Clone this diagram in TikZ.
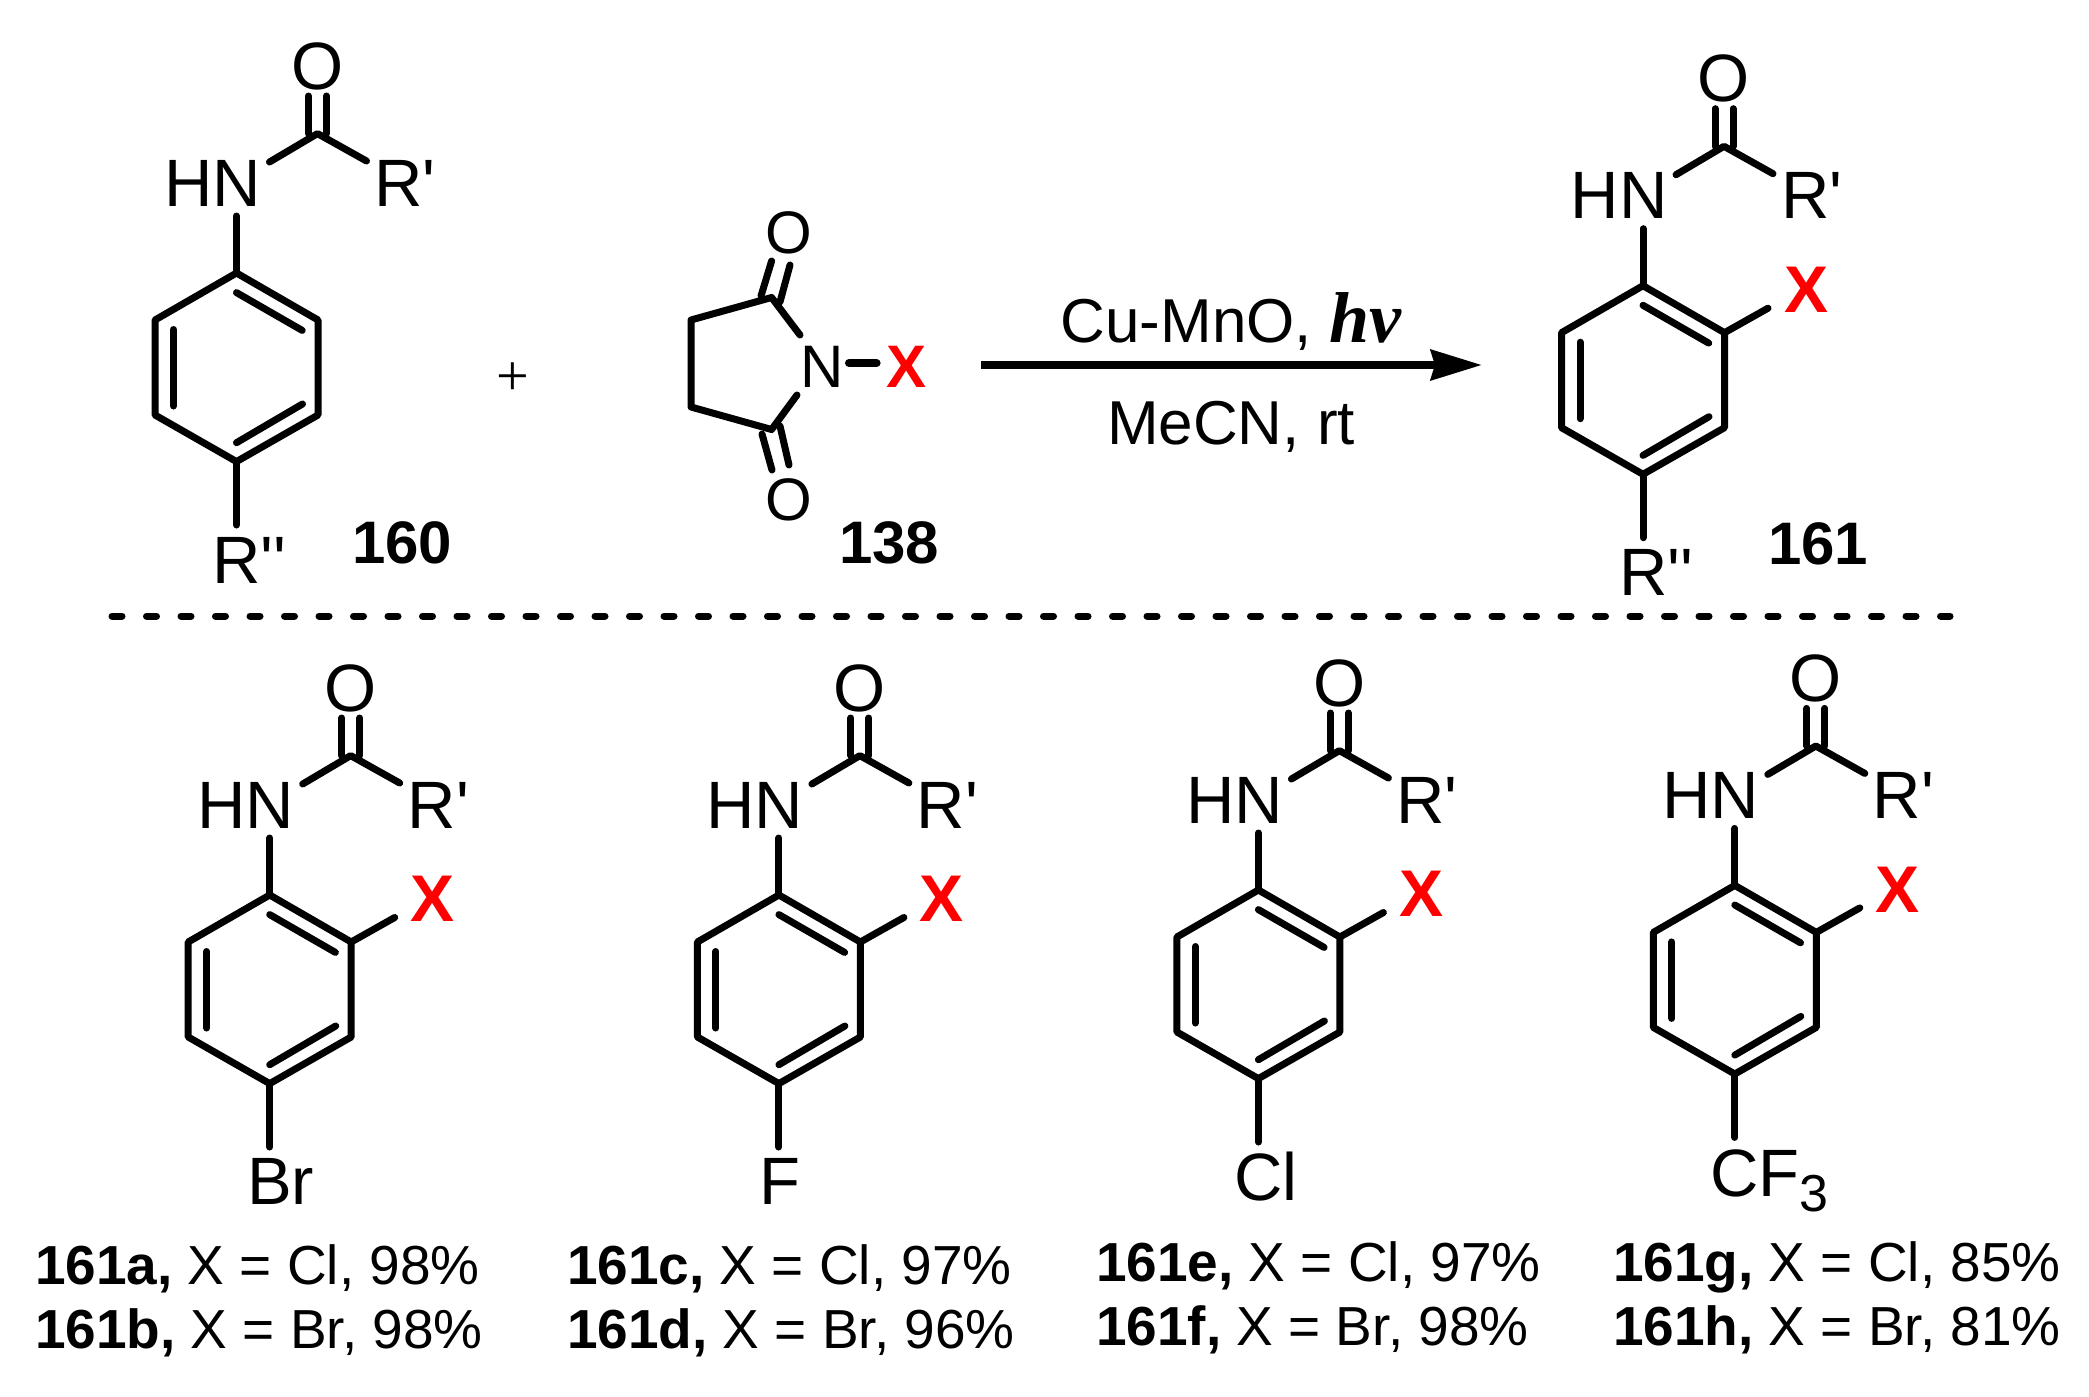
\documentclass[tikz,border=0pt]{standalone}
\usepackage{fontspec}
\usetikzlibrary{arrows.meta}
\newfontfamily\arl{Liberation Sans}
\newfontfamily\tms{Liberation Serif}
\tikzset{
  bond/.style={line width=7pt,line cap=round,line join=round,black},
  lab/.style={inner sep=0pt,outer sep=0pt,font=\arl\fontsize{67}{70}\selectfont},
  smlab/.style={inner sep=0pt,outer sep=0pt,font=\arl\fontsize{60}{64}\selectfont},
  cpd/.style={inner sep=0pt,outer sep=0pt,font=\arl\bfseries\fontsize{60}{64}\selectfont},
  captext/.style={inner sep=0pt,outer sep=0pt,anchor=base west,font=\arl\fontsize{55}{60}\selectfont},
  redx/.style={inner sep=0pt,outer sep=0pt,text=red,font=\arl\bfseries\fontsize{66}{70}\selectfont},
}
\newcommand{\amide}[3]{%
 \begin{scope}[shift={(#2,#3)}]
  \coordinate (#1-t) at (0,0);
  \coordinate (#1-ur) at (81.5,47);
  \coordinate (#1-lr) at (81.5,142);
  \coordinate (#1-b) at (0,188.6);
  \coordinate (#1-ll) at (-81.5,142);
  \coordinate (#1-ul) at (-81.5,47);
  \coordinate (#1-i1a) at (0,19.6);
  \coordinate (#1-i1b) at (65.7,57.4);
  \coordinate (#1-i2a) at (-63,56.5);
  \coordinate (#1-i2b) at (-63,133);
  \coordinate (#1-i3a) at (0,169.7);
  \coordinate (#1-i3b) at (66,131);
  \coordinate (#1-ne) at (0,-57);
  \coordinate (#1-pe) at (0,252);
  \coordinate (#1-c) at (81,-139.4);
  \coordinate (#1-nc) at (33,-111);
  \coordinate (#1-rc) at (130,-112);
  \coordinate (#1-d1a) at (72,-139.4);
  \coordinate (#1-d1b) at (72,-177);
  \coordinate (#1-d2a) at (90,-139.4);
  \coordinate (#1-d2b) at (90,-177);
  \node[lab] (#1-O) at (81,-207) {O};
  \node[lab,anchor=base] (#1-HN) at (-24,-67) {HN};
  \node[lab,anchor=base west] (#1-R) at (138,-67) {R'};
 \end{scope}
 \draw[bond] (#1-t)--(#1-ur)--(#1-lr)--(#1-b)--(#1-ll)--(#1-ul)--cycle;
 \draw[bond] (#1-i1a)--(#1-i1b);
 \draw[bond] (#1-i2a)--(#1-i2b);
 \draw[bond] (#1-i3a)--(#1-i3b);
 \draw[bond] (#1-ne)--(#1-t);
 \draw[bond] (#1-b)--(#1-pe);
 \draw[bond] (#1-nc)--(#1-c)--(#1-rc);
 \draw[bond] (#1-d1a)--(#1-d1b);
 \draw[bond] (#1-d2a)--(#1-d2b);
}
\newcommand{\addx}[3]{%
 \begin{scope}[shift={(#2,#3)}]
  \coordinate (#1-xe) at (125,22.5);
  \node[redx,anchor=base] (#1-X) at (163,26.7) {X};
 \end{scope}
 \draw[bond] (#1-ur)--(#1-xe);
}
\begin{document}
\begin{tikzpicture}[x=1pt,y=-1pt]
\useasboundingbox (0,0) rectangle (2089,1397);
\fill[white] (0,0) rectangle (2089,1397);

% top row
\amide{ma}{236.5}{273}
\node[lab,anchor=base west] (ma-Rpp) at (212,583) {R''};
\node[cpd,anchor=base west] (c160) at (352,563) {160};
\node[inner sep=0pt,font=\tms\fontsize{58}{60}\selectfont] (plus) at (512.7,379) {+};

% succinimide
\coordinate (s-c1) at (771.6,297.5);
\coordinate (s-l1) at (691,320);
\coordinate (s-l2) at (691,407);
\coordinate (s-c2) at (771.6,429.5);
\coordinate (s-n1) at (800,335);
\coordinate (s-n2) at (797,395);
\coordinate (s-a1) at (761,296);
\coordinate (s-a2) at (771.6,261);
\coordinate (s-b1) at (780,302);
\coordinate (s-b2) at (790,265);
\coordinate (s-e1) at (762,434);
\coordinate (s-e2) at (772,470);
\coordinate (s-f1) at (780,426);
\coordinate (s-f2) at (789,465);
\coordinate (s-x1) at (849,363);
\coordinate (s-x2) at (876.6,363);
\node[smlab,anchor=base] (s-N) at (822,387) {N};
\node[smlab] (s-O1) at (788.8,233) {O};
\node[smlab] (s-O2) at (788.8,500) {O};
\node[redx,anchor=base,font=\arl\bfseries\fontsize{60}{64}\selectfont] (s-X) at (906,387) {X};
\draw[bond] (s-n1)--(s-c1)--(s-l1)--(s-l2)--(s-c2)--(s-n2);
\draw[bond] (s-a1)--(s-a2);
\draw[bond] (s-b1)--(s-b2);
\draw[bond] (s-e1)--(s-e2);
\draw[bond] (s-f1)--(s-f2);
\draw[bond,line width=8pt] (s-x1)--(s-x2);
\node[cpd,anchor=base west] (c138) at (839,563) {138};

% arrow
\coordinate (ar-s) at (981,365);
\coordinate (ar-e) at (1482,365);
\draw[line width=8pt,-{Stealth[length=51pt,width=30pt,inset=4pt]}] (ar-s)--(ar-e);
\node[smlab,anchor=base,font=\arl\fontsize{62}{66}\selectfont] (ar-top) at (1231,342) {Cu-MnO, {\tms\bfseries\itshape\fontsize{72}{72}\selectfont hv}};
\node[smlab,anchor=base,font=\arl\fontsize{62}{66}\selectfont] (ar-bot) at (1231,444) {MeCN, rt};

\amide{mb}{1643}{285.7}
\addx{mb}{1643}{285.7}
\node[lab,anchor=base west] (mb-Rpp) at (1619,595) {R''};
\node[cpd,anchor=base west] (c161) at (1768,564) {161};

% dashed separator
\coordinate (sep-l) at (112,616);
\coordinate (sep-r) at (1950,616);
\draw[line width=7pt,line cap=round,dash pattern=on 10pt off 24.5pt] (sep-l)--(sep-r);

% bottom row
\amide{m1}{269.7}{895}
\addx{m1}{269.7}{895}
\node[lab,anchor=base west] (m1-S) at (247,1204) {Br};
\amide{m2}{778.9}{895}
\addx{m2}{778.9}{895}
\node[lab,anchor=base west] (m2-S) at (759,1204) {F};
\amide{m3}{1258.4}{890}
\addx{m3}{1258.4}{890}
\node[lab,anchor=base west] (m3-S) at (1234,1200) {Cl};
\amide{m4}{1734.8}{885.4}
\addx{m4}{1734.8}{885.4}
\node[lab,anchor=base west] (m4-S) at (1710,1196) {CF\raisebox{-15pt}{\fontsize{52}{54}\selectfont 3}};

\node[captext] (t1) at (35,1284) {{\bfseries 161a,} X = Cl, 98\%};
\node[captext] (t2) at (35,1348) {{\bfseries 161b,} X = Br, 98\%};
\node[captext] (t3) at (567,1284) {{\bfseries 161c,} X = Cl, 97\%};
\node[captext] (t4) at (567,1348) {{\bfseries 161d,} X = Br, 96\%};
\node[captext] (t5) at (1096,1281) {{\bfseries 161e,} X = Cl, 97\%};
\node[captext] (t6) at (1096,1345) {{\bfseries 161f,} X = Br, 98\%};
\node[captext] (t7) at (1613,1281) {{\bfseries 161g,} X = Cl, 85\%};
\node[captext] (t8) at (1613,1345) {{\bfseries 161h,} X = Br, 81\%};
\end{tikzpicture}
\end{document}
